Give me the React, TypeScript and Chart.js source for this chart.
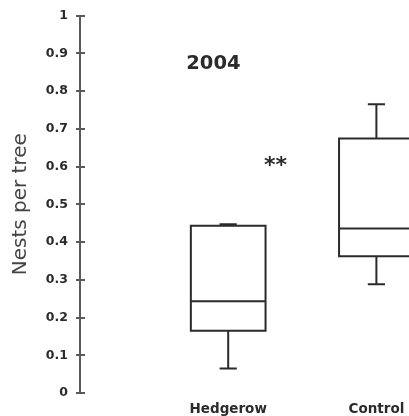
import { useEffect, useRef } from "react";
import { Chart, registerables } from "chart.js";

Chart.register(...registerables);

// Nests per tree, 2004 — box summaries per site type
const categories = ["Hedgerow", "Control"];
const whiskerLow = [0.065, 0.288];
const quartile1 = [0.165, 0.362];
const medians = [0.243, 0.436];
const quartile3 = [0.443, 0.674];
const whiskerHigh = [0.447, 0.765];

const yearLabel = "2004";
const significanceLabel = "**";
const yAxisTitle = "Nests per tree";

const FONT = "'DejaVu Sans', sans-serif";
const INK = "#2b2b2b";
const AXIS = "#5a5a5a";

const boxPlotPlugin = {
  id: "boxPlot",
  afterDatasetsDraw(chart: Chart) {
    const { ctx } = chart;
    const xs = chart.scales.x;
    const ys = chart.scales.y;
    const boxHalf = 0.252;
    const capHalf = 0.058;

    ctx.save();

    // inner half of the y-axis tick marks
    ctx.strokeStyle = AXIS;
    ctx.lineWidth = 2;
    const axisX = chart.chartArea.left;
    ys.ticks.forEach((t) => {
      const py = Math.round(ys.getPixelForValue(t.value));
      ctx.beginPath();
      ctx.moveTo(axisX, py);
      ctx.lineTo(axisX + 5, py);
      ctx.stroke();
    });

    ctx.strokeStyle = INK;
    ctx.lineWidth = 2;
    categories.forEach((_, i) => {
      const c = i + 1;
      const xc = xs.getPixelForValue(c);
      const xl = xs.getPixelForValue(c - boxHalf);
      const xr = xs.getPixelForValue(c + boxHalf);
      const cl = xs.getPixelForValue(c - capHalf);
      const cr = xs.getPixelForValue(c + capHalf);
      const yMin = ys.getPixelForValue(whiskerLow[i]);
      const yQ1 = ys.getPixelForValue(quartile1[i]);
      const yMed = ys.getPixelForValue(medians[i]);
      const yQ3 = ys.getPixelForValue(quartile3[i]);
      const yMax = ys.getPixelForValue(whiskerHigh[i]);

      ctx.beginPath();
      // box
      ctx.rect(xl, yQ3, xr - xl, yQ1 - yQ3);
      // median
      ctx.moveTo(xl, yMed);
      ctx.lineTo(xr, yMed);
      // lower whisker + cap
      ctx.moveTo(xc, yQ1);
      ctx.lineTo(xc, yMin);
      ctx.moveTo(cl, yMin);
      ctx.lineTo(cr, yMin);
      // upper whisker + cap
      ctx.moveTo(xc, yQ3);
      ctx.lineTo(xc, yMax);
      ctx.moveTo(cl, yMax);
      ctx.lineTo(cr, yMax);
      ctx.stroke();
    });

    // year heading and significance marker
    ctx.fillStyle = INK;
    ctx.textAlign = "center";
    ctx.textBaseline = "middle";
    ctx.font = `bold 19.5px ${FONT}`;
    ctx.fillText(yearLabel, xs.getPixelForValue(0.9), ys.getPixelForValue(0.873));
    ctx.font = `bold 22px ${FONT}`;
    ctx.fillText(significanceLabel, xs.getPixelForValue(1.32), ys.getPixelForValue(0.6));

    ctx.restore();
  },
};

export default function App() {
  const canvasRef = useRef<HTMLCanvasElement | null>(null);

  useEffect(() => {
    if (!canvasRef.current) return;
    const chart = new Chart(canvasRef.current, {
      type: "scatter",
      data: {
        datasets: [
          {
            data: medians.map((m, i) => ({ x: i + 1, y: m })),
            pointRadius: 0,
            showLine: false,
          },
        ],
      },
      options: {
        animation: false,
        responsive: true,
        maintainAspectRatio: false,
        layout: { padding: { top: 15, right: 0, bottom: 0, left: 0 } },
        plugins: {
          legend: { display: false },
          tooltip: { enabled: false },
        },
        scales: {
          x: {
            type: "linear",
            min: 0,
            max: 2.22,
            afterBuildTicks: (s: any) => {
              s.ticks = categories.map((_, i) => ({ value: i + 1 }));
            },
            afterFit: (s: any) => {
              s.height = 23;
            },
            grid: { display: false },
            border: { display: false },
            ticks: {
              autoSkip: false,
              maxRotation: 0,
              padding: 0,
              color: INK,
              font: { family: FONT, weight: "bold", size: 13.5 },
              callback: (v: any) => categories[Math.round(v) - 1] ?? "",
            },
          },
          y: {
            min: 0,
            max: 1,
            afterFit: (s: any) => {
              s.width = 80;
            },
            border: { display: true, color: AXIS, width: 2 },
            grid: {
              drawOnChartArea: false,
              drawTicks: true,
              tickLength: 4,
              color: AXIS,
              lineWidth: 2,
            },
            ticks: {
              stepSize: 0.1,
              padding: 8,
              color: INK,
              font: { family: FONT, weight: "bold", size: 12.5 },
              callback: (v: any) => String(Number(Number(v).toFixed(1))),
            },
            title: {
              display: true,
              text: yAxisTitle,
              color: "#444",
              padding: { top: 9, bottom: 0 },
              font: { family: FONT, size: 20 },
            },
          },
        },
      },
      plugins: [boxPlotPlugin],
    });
    return () => chart.destroy();
  }, []);

  return (
    <div
      style={{
        position: "absolute",
        left: 0,
        top: 0,
        width: 409,
        height: 416,
        background: "#fff",
      }}
    >
      <canvas ref={canvasRef} />
    </div>
  );
}
